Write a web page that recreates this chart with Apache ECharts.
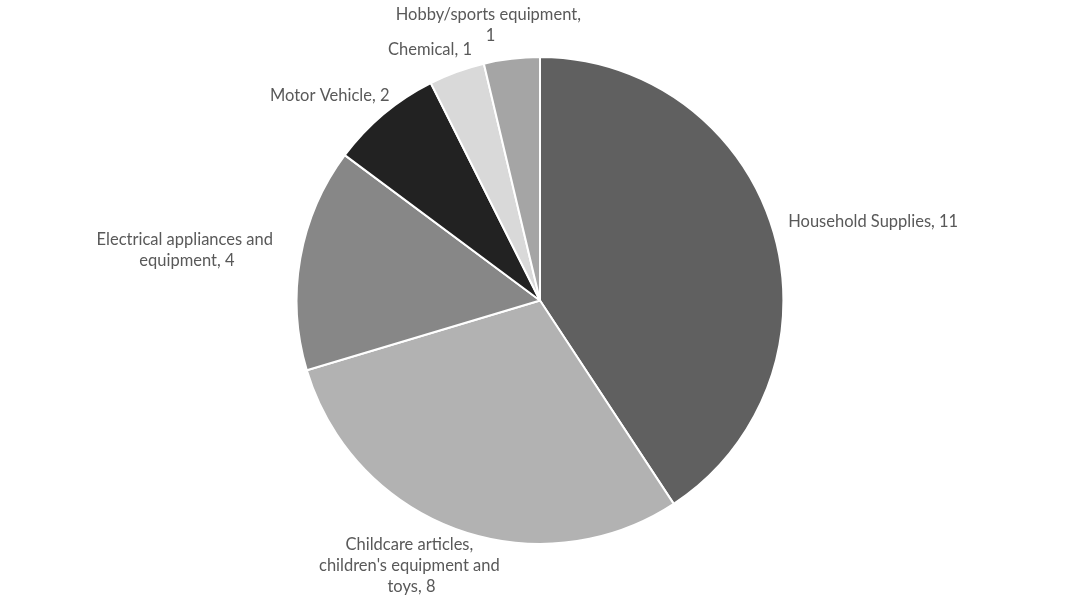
<!DOCTYPE html>
<html>
<head>
<meta charset="utf-8">
<script src="https://cdn.jsdelivr.net/npm/echarts@6/dist/echarts.min.js"></script>
<style>html,body{margin:0;padding:0;background:#fff}#c{width:1080px;height:601px}</style>
</head>
<body>
<div id="c"></div>
<script>
const categories = ["Household Supplies", "Childcare articles, children's equipment and toys", "Electrical appliances and equipment", "Motor Vehicle", "Chemical", "Hobby/sports equipment"];
const values = [11, 8, 4, 2, 1, 1];
const colors = ["#606060", "#b2b2b2", "#878787", "#222222", "#d9d9d9", "#a5a5a5"];
// wrap width for long labels (null = single line)
const labelWidths = [null, 192, 192, null, null, 192];

const chart = echarts.init(document.getElementById('c'));
const total = values.reduce((a, b) => a + b, 0);
const RADIUS_PCT = 0.81;
const GAP = 10;
const SIDE_PAD = 9;

function midAngle(i) {
  let s = 0;
  for (let k = 0; k < i; k++) s += values[k];
  return (s + values[i] / 2) / total * 2 * Math.PI;
}

chart.setOption({
  backgroundColor: '#ffffff',
  animation: false,
  series: [{
    type: 'pie',
    center: ['50%', '50%'],
    radius: (RADIUS_PCT * 100) + '%',
    startAngle: 90,
    clockwise: true,
    data: categories.map((n, i) => {
      const d = { name: n, value: values[i], itemStyle: { color: colors[i] } };
      if (labelWidths[i]) d.label = { width: labelWidths[i], overflow: 'break' };
      return d;
    }),
    itemStyle: { borderColor: '#ffffff', borderWidth: 2 },
    label: {
      show: true,
      position: 'outside',
      formatter: '{b}, {c}',
      fontFamily: 'Lato',
      fontSize: 16.5,
      lineHeight: 21,
      color: '#595959',
      align: 'center'
    },
    labelLine: { show: false },
    emphasis: { disabled: true },
    labelLayout: function (p) {
      const w = chart.getWidth(), h = chart.getHeight();
      const cx = w / 2, cy = h / 2;
      const R = RADIUS_PCT * Math.min(w, h) / 2 + GAP;
      const t = midAngle(p.dataIndex);
      const dx = Math.sin(t), dy = -Math.cos(t);
      const ax = cx + R * dx, ay = cy + R * dy;
      const bw = p.labelRect.width, bh = p.labelRect.height;
      return {
        x: ax + dx * bw / 2 + Math.sign(dx) * SIDE_PAD,
        y: ay + dy * bh / 2 - 3,
        align: 'center',
        verticalAlign: 'middle'
      };
    }
  }]
});
</script>
</body>
</html>
